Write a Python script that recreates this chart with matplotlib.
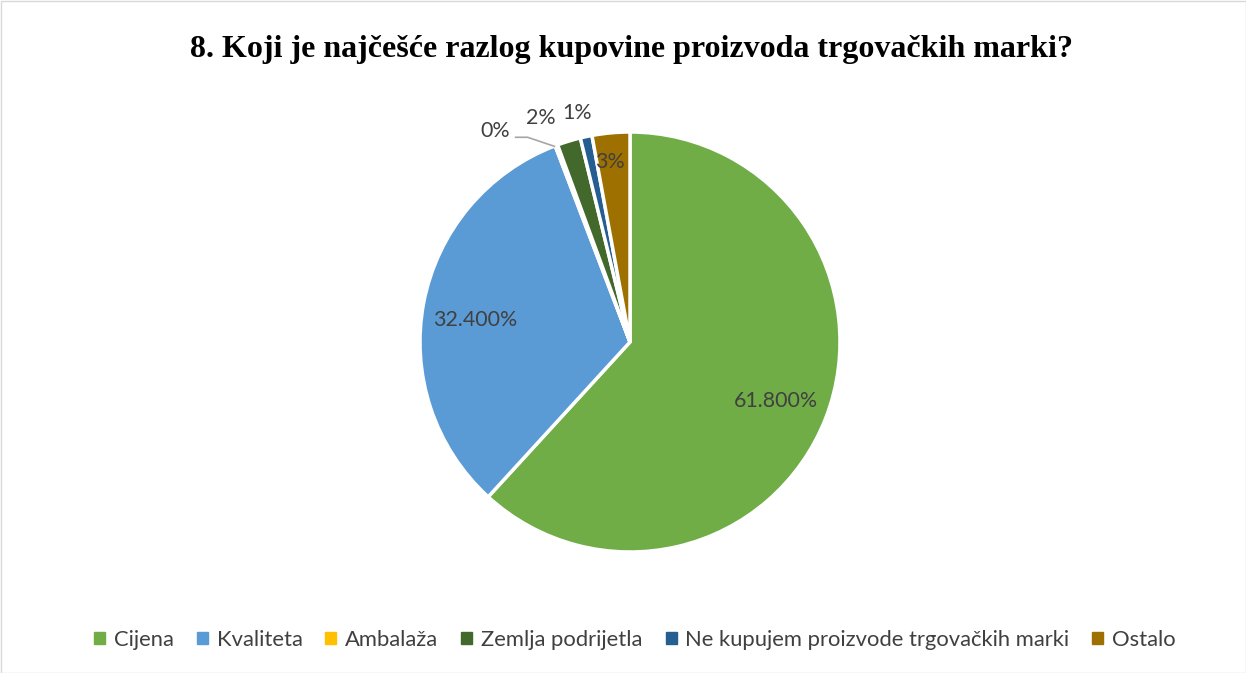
import matplotlib.pyplot as plt
import numpy as np
from matplotlib.patches import Rectangle

categories = ['Cijena', 'Kvaliteta', 'Ambalaža', 'Zemlja podrijetla',
              'Ne kupujem proizvode trgovačkih marki', 'Ostalo']
values = [61.8, 32.4, 0.2, 1.8, 0.9, 2.9]
value_labels = ['61.800%', '32.400%', '0%', '2%', '1%', '3%']
colors = ['#70AD47', '#5B9BD5', '#FFC000', '#43682B', '#255E91', '#9E7000']

fig = plt.figure(figsize=(12.46, 6.73), dpi=100)
ax = fig.add_axes([0, 0, 1, 1])

cx, cy, r = 630 - 623, 336.5 - 342, 210
wedges, _ = ax.pie(values, colors=colors, startangle=90, counterclock=False,
                   radius=r, center=(cx, cy),
                   wedgeprops=dict(edgecolor='white', linewidth=2.5))
ax.set_xlim(-1246 / 2, 1246 / 2)
ax.set_ylim(-673 / 2, 673 / 2)
ax.set_aspect('equal')
ax.axis('off')

# label placement: distance (fraction of radius) and angle shift (deg)
dist = [0.75, 0.745, 1.19, 1.15, 1.12, 0.86]
shift = [-0.8, 2.7, 12, 4.8, 1, 1]
txt_color = '#404040'
for i, w in enumerate(wedges):
    mid = (w.theta1 + w.theta2) / 2
    ang = np.deg2rad(mid + shift[i])
    x = cx + dist[i] * r * np.cos(ang)
    y = cy + dist[i] * r * np.sin(ang)
    if i == 2:
        # leader line for the tiny slice
        ex = cx + r * np.cos(np.deg2rad(mid))
        ey = cy + r * np.sin(np.deg2rad(mid))
        ax.plot([x + 20, x + 32, ex - 2], [y - 6, y - 6, ey - 1],
                color='#A6A6A6', lw=1.2)
    ax.text(x, y, value_labels[i], ha='center', va='center',
            fontsize=15.4, color=txt_color, family='Lato')

ax.text(8, 336.5 - 50, '8. Koji je najčešće razlog kupovine proizvoda trgovačkih marki?',
        ha='center', va='center', fontsize=23, fontweight='bold',
        family='Liberation Serif', color='black')

handles = [Rectangle((0, 0), 1, 1, color=c) for c in colors]
fig.legend(handles, categories, loc='center',
           bbox_to_anchor=(0.5 + 12 / 1246, 1 - 640 / 673),
           ncol=6, frameon=False, handlelength=0.5, handleheight=0.5,
           handletextpad=0.4, columnspacing=1.05,
           prop=dict(family='Lato', size=15.8), labelcolor=txt_color)

fig.patches.append(Rectangle((0.5 / 1246, 0.5 / 673), 1 - 1 / 1246, 1 - 1 / 673,
                             transform=fig.transFigure, fill=False,
                             edgecolor='#D9D9D9', lw=1))

fig.savefig('out.png', dpi=100)
